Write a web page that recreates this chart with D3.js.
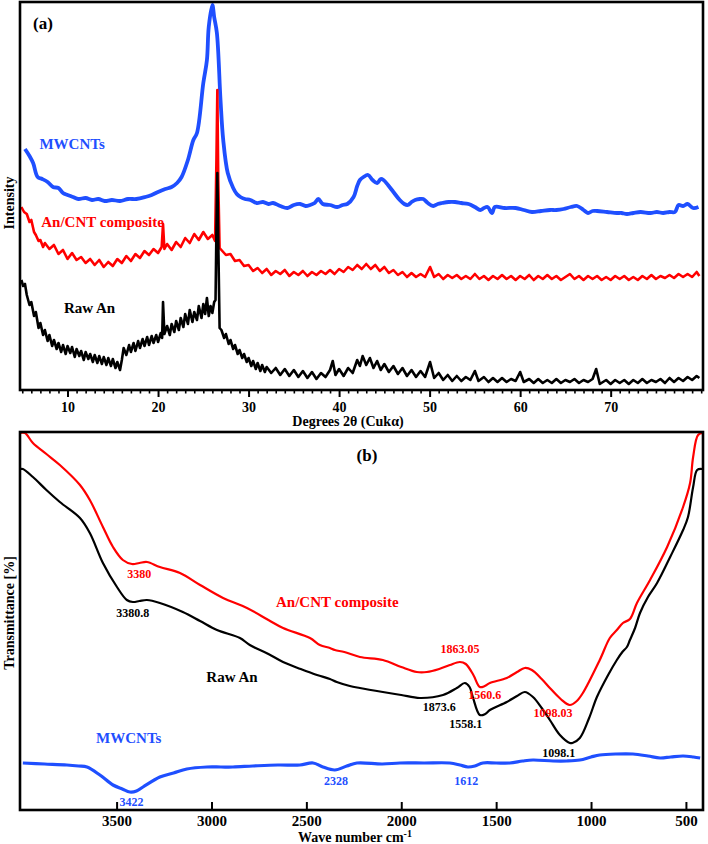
<!DOCTYPE html>
<html><head><meta charset="utf-8">
<script src="https://cdn.jsdelivr.net/npm/d3@7"></script>
<style>body{margin:0;background:#fff}svg{display:block}svg text{font-family:"Liberation Serif","Times New Roman",serif !important;font-weight:bold}</style>
</head><body>
<svg id="c" width="708" height="844"></svg>
<script>
// ---------- Panel (a): XRD, [2theta, intensity (a.u.)] ----------
const xrdMWCNT = [[5.3,241],[5.8,234],[6.2,227],[6.7,213],[7.2,211],[7.8,208],[8.4,203],[9.0,202],[9.5,197],[10.0,195],[10.6,193],[11.2,191],[12.0,192],[12.7,190],[13.4,191],[14.1,189],[14.9,190],[15.8,189],[16.7,191],[17.6,191],[18.6,193],[19.3,195],[20.0,198],[20.8,201],[21.5,203],[22.1,207],[22.6,213],[23.3,230],[23.9,250],[24.3,257],[25.0,307],[25.4,330],[25.6,363],[26.0,385],[26.2,373],[26.5,357],[26.9,290],[27.2,250],[27.7,217],[28.3,202],[28.7,196],[29.1,193],[29.6,191],[30.2,190],[30.9,187],[31.6,188],[32.2,186],[32.7,187],[33.5,184],[34.3,182],[35.0,185],[35.7,186],[36.3,184],[36.8,185],[37.3,187],[37.7,191],[38.2,186],[39.0,185],[39.8,183],[40.4,185],[40.9,186],[41.6,193],[42.0,204],[42.3,210],[42.7,213],[43.2,215],[43.7,210],[44.2,207],[44.6,211],[44.9,210],[45.4,205],[46.0,198],[46.7,190],[47.2,186],[47.6,185],[48.0,188],[48.4,190],[48.9,191],[49.3,191],[49.8,187],[50.4,184],[50.9,186],[51.4,187],[52.1,188],[52.8,188],[53.5,187],[54.3,186],[55.0,183],[55.6,180],[56.0,182],[56.4,183],[56.9,177],[57.2,183],[58.3,182],[59.5,182],[60.4,180],[61.3,178],[62.3,179],[63.3,180],[64.0,180],[64.8,181],[65.6,183],[66.3,184],[67.0,180],[67.5,177],[68.0,179],[68.5,179],[69.6,178],[70.7,177],[71.2,177],[71.8,176],[72.5,177],[73.3,178],[74.4,177],[75.1,178],[75.8,177],[76.5,178],[77.1,178],[77.5,185],[78.0,184],[78.5,186],[79.1,182],[79.7,183]];

const xrdComposite = [[4.9,183],[5.2,178],[5.5,176],[5.8,168],[6.0,170],[6.3,158],[6.5,155],[6.8,149],[7.0,150],[7.3,143],[7.5,147],[8.0,141],[8.5,145],[9.0,136],[9.5,140],[10.0,131],[10.5,137],[11.0,130],[11.5,133],[12.0,127],[12.5,131],[13.0,125],[13.5,130],[14.0,123],[14.5,128],[15.0,124],[15.5,131],[16.0,127],[16.5,134],[17.0,129],[17.5,136],[18.0,132],[18.5,139],[19.0,135],[19.5,141],[20.0,137],[20.4,143],[20.55,166],[20.7,141],[21.0,146],[21.5,140],[22.0,148],[22.5,143],[23.0,152],[23.5,147],[24.0,156],[24.5,150],[25.0,158],[25.5,151],[26.0,155],[26.3,149],[26.45,230],[26.55,300],[26.65,210],[26.8,142],[27.0,140],[27.5,135],[28.0,136],[28.5,129],[29.0,130],[29.5,124],[30.0,125],[30.5,119],[31.0,122],[31.5,117],[32.0,121],[32.5,115],[33.0,119],[33.5,116],[34.0,120],[34.5,114],[35.0,118],[35.5,115],[36.0,119],[36.5,114],[37.0,118],[37.5,115],[38.0,119],[38.5,116],[39.0,120],[39.5,116],[40.0,121],[40.5,118],[41.0,123],[41.5,120],[42.0,125],[42.5,121],[43.0,126],[43.5,121],[44.0,125],[44.5,119],[45.0,123],[45.5,117],[46.0,120],[46.5,115],[47.0,118],[47.5,113],[48.0,117],[48.5,113],[49.0,116],[49.5,113],[50.05,123],[50.5,113],[51.0,116],[51.5,111],[52.0,115],[52.5,112],[53.0,115],[53.5,111],[54.0,114],[54.5,111],[55.0,116],[55.5,111],[56.0,114],[56.5,110],[57.0,114],[57.5,111],[58.0,115],[58.5,111],[59.0,114],[59.5,110],[60.0,114],[60.5,111],[61.0,115],[61.5,110],[62.0,114],[62.5,111],[63.0,115],[63.5,111],[64.0,114],[64.5,110],[65.0,113],[65.5,116],[66.0,111],[66.5,114],[67.0,110],[67.5,114],[68.0,111],[68.5,114],[69.0,110],[69.5,113],[70.0,110],[70.5,114],[71.0,111],[71.5,114],[72.0,110],[72.5,113],[73.0,110],[73.5,114],[74.0,111],[74.5,115],[75.0,111],[75.5,114],[76.0,112],[76.5,115],[77.0,112],[77.5,116],[78.0,113],[78.5,116],[79.0,113],[79.5,118],[79.8,114]];

const xrdRawAn = [[4.9,110],[5.1,104],[5.3,106],[5.5,95],[5.8,85],[6.0,88],[6.3,74],[6.5,78],[6.8,62],[7.0,67],[7.3,55],[7.5,60],[7.8,49],[8.0,55],[8.3,44],[8.5,50],[8.8,41],[9.0,47],[9.3,38],[9.5,45],[9.8,36],[10.0,44],[10.3,37],[10.5,43],[10.8,33],[11.0,41],[11.3,34],[11.5,39],[11.8,30],[12.0,38],[12.3,31],[12.5,36],[12.8,28],[13.0,35],[13.3,27],[13.5,34],[13.8,26],[14.0,33],[14.3,25],[14.5,32],[14.8,24],[15.0,31],[15.3,22],[15.5,28],[15.8,20],[16.0,30],[16.2,42],[16.5,35],[16.8,45],[17.0,38],[17.3,47],[17.5,39],[17.8,49],[18.0,42],[18.3,51],[18.5,44],[18.8,53],[19.0,45],[19.3,54],[19.5,47],[19.8,55],[20.0,48],[20.3,57],[20.45,52],[20.55,88],[20.7,56],[21.0,64],[21.3,55],[21.5,66],[21.8,58],[22.0,69],[22.3,60],[22.5,72],[22.8,63],[23.0,76],[23.3,66],[23.5,80],[23.8,68],[24.0,78],[24.3,70],[24.5,84],[24.8,72],[25.0,86],[25.2,76],[25.4,92],[25.6,74],[25.8,84],[26.0,77],[26.2,88],[26.35,90],[26.45,160],[26.55,217],[26.65,150],[26.8,62],[27.0,60],[27.3,52],[27.5,56],[27.8,46],[28.0,50],[28.3,41],[28.5,45],[28.8,36],[29.0,40],[29.3,32],[29.5,36],[29.8,28],[30.0,32],[30.3,24],[30.5,29],[30.8,21],[31.0,27],[31.3,19],[31.5,25],[31.8,18],[32.0,23],[32.5,17],[33.0,22],[33.5,15],[34.0,21],[34.5,14],[35.0,20],[35.5,13],[36.0,19],[36.5,12],[37.0,18],[37.5,11],[38.0,17],[38.5,13],[39.0,20],[39.3,29],[39.6,15],[40.0,21],[40.5,14],[41.0,22],[41.5,17],[42.0,30],[42.3,24],[42.6,34],[43.0,25],[43.4,32],[43.8,22],[44.2,29],[44.6,20],[45.0,26],[45.5,18],[46.0,24],[46.5,16],[47.0,22],[47.5,14],[48.0,20],[48.5,13],[49.0,19],[49.5,13],[50.05,28],[50.5,12],[51.0,17],[51.5,10],[52.0,15],[52.5,9],[53.0,14],[53.5,9],[54.0,13],[54.5,10],[55.0,19],[55.4,9],[56.0,13],[56.5,8],[57.0,12],[57.5,8],[58.0,12],[58.5,8],[59.0,11],[59.5,9],[60.0,18],[60.4,8],[61.0,11],[61.5,7],[62.0,11],[62.5,7],[63.0,10],[63.5,7],[64.0,11],[64.5,7],[65.0,10],[65.5,8],[66.0,11],[66.5,7],[67.0,10],[67.5,8],[68.0,11],[68.4,21],[68.8,6],[69.5,10],[70.0,6],[70.5,10],[71.0,7],[71.5,10],[72.0,6],[72.5,10],[73.0,7],[73.5,11],[74.0,7],[74.5,10],[75.0,8],[75.5,11],[76.0,7],[76.5,12],[77.0,8],[77.5,12],[78.0,9],[78.5,13],[79.0,10],[79.5,14],[79.8,12]];

const xTicksA = [10, 20, 30, 40, 50, 60, 70];
const xMinorA = [5,6,7,8,9,11,12,13,14,15,16,17,18,19,21,22,23,24,25,26,27,28,29,31,32,33,34,35,36,37,38,39,41,42,43,44,45,46,47,48,49,51,52,53,54,55,56,57,58,59,61,62,63,64,65,66,67,68,69,71,72,73,74,75,76,77,78,79,80];
const labelsA = [
  {t:"MWCNTs", x:6.9, y:241, c:"#1f4fff"},
  {t:"An/CNT composite", x:7.1, y:163, c:"#ff0000"},
  {t:"Raw An", x:9.6, y:77, c:"#000000"}
];

// ---------- Panel (b): FTIR, [wavenumber, transmittance (a.u.)] ----------
const ftirComposite = [[4009,377],[3983,377],[3941,367],[3870,356],[3799,345],[3693,325],[3641,310],[3572,283],[3519,263],[3467,250],[3419,246],[3380,247],[3340,248],[3272,243],[3166,237],[3060,225],[2939,212],[2813,202],[2700,190],[2623,182],[2481,172],[2429,165],[2376,162],[2350,160],[2300,158],[2218,153],[2097,150],[2000,143],[1918,138],[1865,138],[1800,141],[1744,145],[1691,148],[1660,146],[1620,135],[1586,123],[1560,124],[1533,127],[1444,132],[1390,138],[1349,142],[1312,140],[1260,131],[1217,122],[1160,111],[1112,105],[1075,109],[1043,117],[954,150],[901,172],[864,180],[832,187],[795,191],[758,207],[689,230],[599,263],[515,303],[478,327],[462,353],[436,375],[410,377]];

const ftirRawAn = [[4009,341],[3994,341],[3941,333],[3870,320],[3799,308],[3693,292],[3641,277],[3572,247],[3498,223],[3446,210],[3414,208],[3380,209],[3340,210],[3272,207],[3151,198],[3060,189],[2971,180],[2850,172],[2798,165],[2700,156],[2623,148],[2530,141],[2444,135],[2376,131],[2340,128],[2271,124],[2218,122],[2097,118],[2000,115],[1902,112],[1780,115],[1707,122],[1665,127],[1640,123],[1623,113],[1586,95],[1558,96],[1533,100],[1444,108],[1390,114],[1349,118],[1306,113],[1260,102],[1217,90],[1164,75],[1112,67],[1098,67],[1059,72],[1010,92],[969,113],[910,135],[864,150],[835,158],[811,163],[795,170],[768,182],[742,197],[700,213],[652,227],[583,253],[515,280],[489,293],[462,323],[441,340],[415,341]];

const ftirMWCNT = [[3994,47],[3880,46],[3762,45],[3700,44],[3656,43],[3588,35],[3519,25],[3470,21],[3430,18],[3395,19],[3361,23],[3272,33],[3200,37],[3130,41],[3024,43],[2950,43],[2887,43],[2782,44],[2650,45],[2534,45],[2465,47],[2413,43],[2350,40],[2287,44],[2234,47],[2100,46],[2007,47],[1880,47],[1744,47],[1691,45],[1649,43],[1612,44],[1570,47],[1500,47],[1428,47],[1360,49],[1306,50],[1200,49],[1127,49],[1059,50],[1000,53],[954,55],[870,56],[779,56],[700,54],[636,52],[580,53],[515,54],[460,53],[425,52]];

const xTicksB = [3500, 3000, 2500, 2000, 1500, 1000, 500];
const labelsB = [
  {t:"3380", x:3380, y:232, c:"#ff0000", s:12},
  {t:"3380.8", x:3415, y:193, c:"#000000", s:12},
  {t:"An/CNT composite", x:2660, y:203, c:"#ff0000", s:15, start:true},
  {t:"Raw An", x:3027, y:128, c:"#000000", s:15, start:true},
  {t:"MWCNTs", x:3608, y:67, c:"#1f4fff", s:15, start:true},
  {t:"3422", x:3422, y:4, c:"#1f4fff", s:12},
  {t:"2328", x:2344, y:25, c:"#1f4fff", s:12},
  {t:"1612", x:1657, y:25, c:"#1f4fff", s:12},
  {t:"1863.05", x:1690, y:157, c:"#ff0000", s:12},
  {t:"1560.6", x:1560, y:111, c:"#ff0000", s:12},
  {t:"1873.6", x:1800, y:99, c:"#000000", s:12},
  {t:"1558.1", x:1660, y:82, c:"#000000", s:12},
  {t:"1098.03", x:1200, y:93, c:"#ff0000", s:12},
  {t:"1098.1", x:1170, y:53, c:"#000000", s:12}
];

// ---------- drawing ----------
const SERIF = '"Liberation Serif","Times New Roman",serif';
const svg = d3.select("#c");
const xA = d3.scaleLinear().domain([4.75, 80.2]).range([20, 703]);
const yA = d3.scaleLinear().domain([0, 388]).range([390, 2]);
const xB = d3.scaleLinear().domain([4009, 410]).range([20, 703]);
const yB = d3.scaleLinear().domain([0, 378]).range([810, 432]);

const defs = svg.append("defs");
defs.append("clipPath").attr("id","clipA").append("rect").attr("x",20).attr("y",2).attr("width",683).attr("height",388);
defs.append("clipPath").attr("id","clipB").append("rect").attr("x",20).attr("y",432).attr("width",683).attr("height",378);

function txt(sel, size, fill) {
  return sel.style("font-family", SERIF).style("font-weight","bold").style("font-size", size + "px").attr("fill", fill || "#000");
}

// panel a curves
const gA = svg.append("g").attr("clip-path","url(#clipA)");
const lineAs = d3.line().x(d => xA(d[0])).y(d => yA(d[1])).curve(d3.curveCatmullRom.alpha(0.5));
const lineA = d3.line().x(d => xA(d[0])).y(d => yA(d[1]));
gA.append("path").datum(xrdMWCNT).attr("d", lineAs).attr("fill","none").attr("stroke","#1f4fff").attr("stroke-width",3.8).attr("stroke-linejoin","round");
gA.append("path").datum(xrdComposite).attr("d", lineA).attr("fill","none").attr("stroke","#ff0000").attr("stroke-width",2.6).attr("stroke-linejoin","round");
gA.append("path").datum(xrdRawAn).attr("d", lineA).attr("fill","none").attr("stroke","#000").attr("stroke-width",2.6).attr("stroke-linejoin","round");

// panel a frame + axis
svg.append("rect").attr("x",20).attr("y",2).attr("width",683).attr("height",388).attr("fill","none").attr("stroke","#000").attr("stroke-width",2.6);
const axA = svg.append("g").attr("transform","translate(0,390)")
  .call(d3.axisBottom(xA).tickValues(xTicksA).tickSize(7).tickPadding(5).tickFormat(d3.format("d")));
axA.select(".domain").remove();
axA.selectAll("line").attr("stroke-width",2);
txt(axA.selectAll("text"), 14);
const axAm = svg.append("g").attr("transform","translate(0,390)")
  .call(d3.axisBottom(xA).tickValues(xMinorA).tickSize(3.5).tickFormat(""));
axAm.select(".domain").remove();
axAm.selectAll("line").attr("stroke-width",1.6);

txt(svg.append("text").attr("x",348).attr("y",426).attr("text-anchor","middle"), 14).text("Degrees 2θ (Cukα)");
txt(svg.append("text").attr("transform","translate(14,203) rotate(-90)").attr("text-anchor","middle"), 14).text("Intensity");
txt(svg.append("text").attr("x",33).attr("y",29), 17).text("(a)");
labelsA.forEach(l => txt(svg.append("text").attr("x",xA(l.x)).attr("y",yA(l.y)), 15, l.c).text(l.t));

// panel b curves
const lineB = d3.line().x(d => xB(d[0])).y(d => yB(d[1])).curve(d3.curveCatmullRom.alpha(0.5));
const gB = svg.append("g").attr("clip-path","url(#clipB)");
gB.append("path").datum(ftirComposite).attr("d", lineB).attr("fill","none").attr("stroke","#ff0000").attr("stroke-width",2.2);
gB.append("path").datum(ftirRawAn).attr("d", lineB).attr("fill","none").attr("stroke","#000").attr("stroke-width",2.2);
gB.append("path").datum(ftirMWCNT).attr("d", lineB).attr("fill","none").attr("stroke","#1f4fff").attr("stroke-width",3.2);

svg.append("rect").attr("x",20).attr("y",432).attr("width",683).attr("height",378).attr("fill","none").attr("stroke","#000").attr("stroke-width",2.6);
const axB = svg.append("g").attr("transform","translate(0,810)")
  .call(d3.axisBottom(xB).tickValues(xTicksB).tickSize(-8).tickPadding(5).tickFormat(d3.format("d")));
axB.select(".domain").remove();
axB.selectAll("line").attr("stroke-width",2);
txt(axB.selectAll("text"), 15);

const tB = txt(svg.append("text").attr("x",355).attr("y",842).attr("text-anchor","middle"), 14);
tB.append("tspan").text("Wave number cm");
tB.append("tspan").attr("dy",-5).style("font-size","10px").text("-1");
txt(svg.append("text").attr("transform","translate(14,613) rotate(-90)").attr("text-anchor","middle"), 14).text("Transmittance [%]");
txt(svg.append("text").attr("x",367).attr("y",461).attr("text-anchor","middle"), 17).text("(b)");
labelsB.forEach(l => txt(svg.append("text").attr("x",xB(l.x)).attr("y",yB(l.y))
  .attr("text-anchor", l.start ? "start" : "middle"), l.s, l.c).text(l.t));
</script>
</body></html>
